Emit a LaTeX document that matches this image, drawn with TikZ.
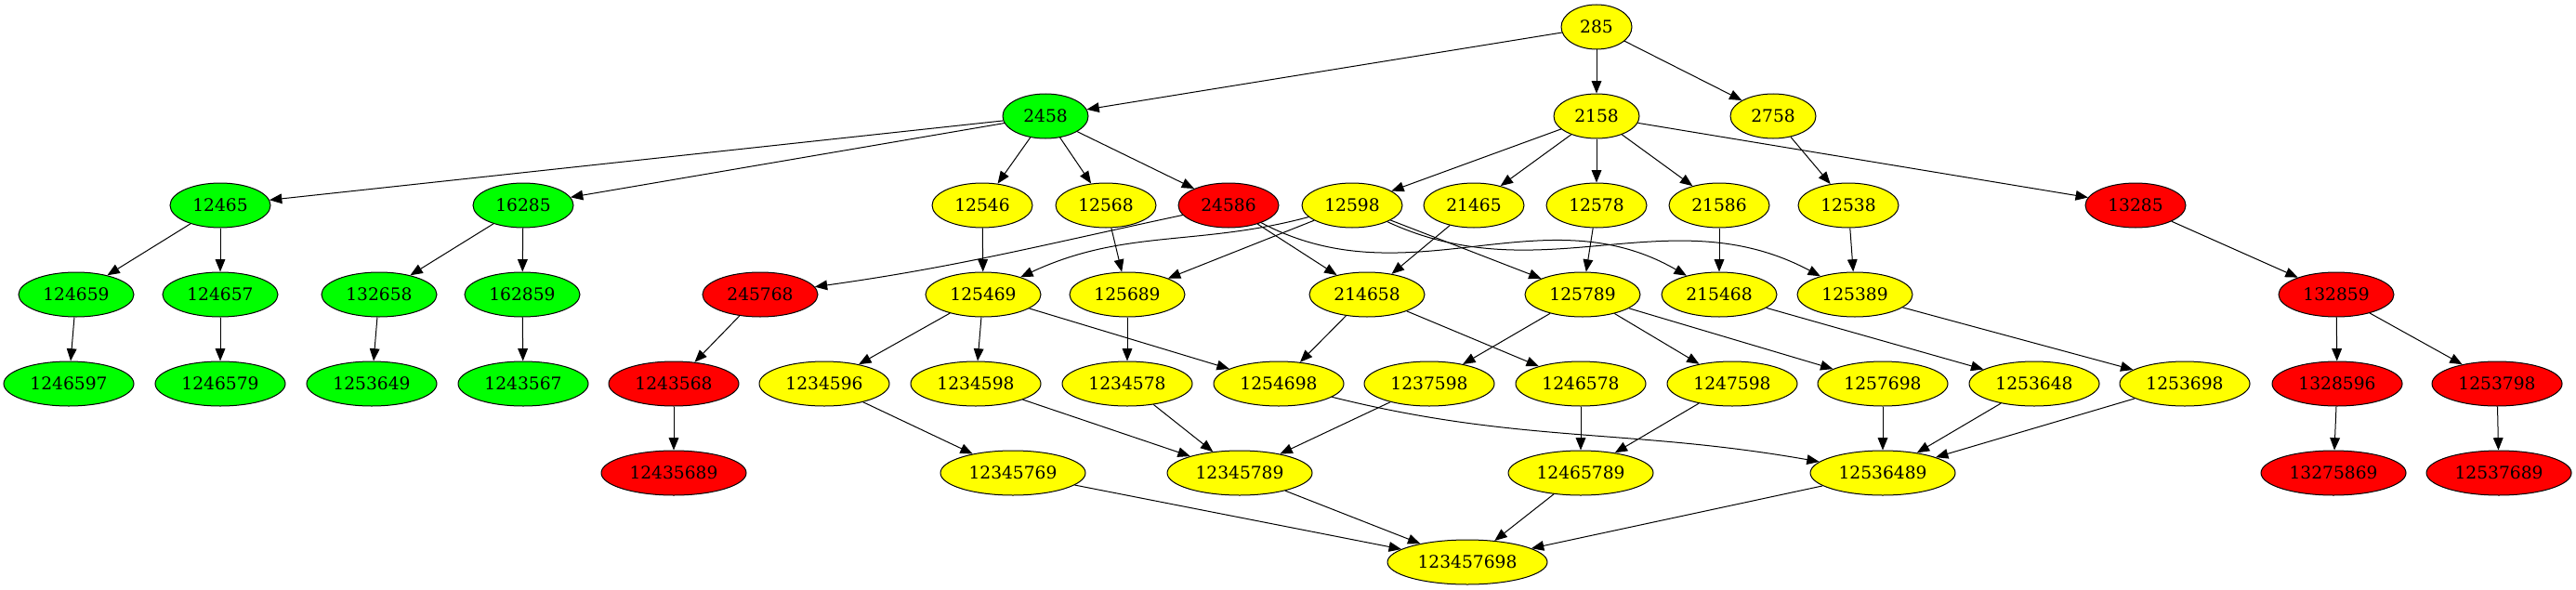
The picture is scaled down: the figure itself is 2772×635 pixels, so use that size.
\documentclass[tikz,border=0pt]{standalone}
\usepackage{fontspec}
\setmainfont{DejaVu Serif}
\usetikzlibrary{shapes.geometric,arrows.meta}
\definecolor{gvgreen}{RGB}{0,255,0}
\definecolor{gvyellow}{RGB}{255,255,0}
\definecolor{gvred}{RGB}{255,0,0}
\begin{document}
\begin{tikzpicture}[x=0.75pt,y=0.75pt,
  gv/.style={ellipse,draw=black,line width=0.75pt,inner sep=0pt,minimum height=36pt,font=\fontsize{14pt}{16pt}\selectfont},
  w3/.style={gv,minimum width=57pt},
  w4/.style={gv,minimum width=69pt},
  w5/.style={gv,minimum width=81pt},
  w6/.style={gv,minimum width=93pt},
  w7/.style={gv,minimum width=105pt},
  w8/.style={gv,minimum width=117pt},
  w9/.style={gv,minimum width=129pt},
  G/.style={fill=gvgreen},
  Y/.style={fill=gvyellow},
  R/.style={fill=gvred},
  edge/.style={-{Triangle[length=10pt,width=8pt]},line width=0.75pt}]
\useasboundingbox (0,0) rectangle (2772,-635);
% row 1
\node[w3,Y] (n285) at (1718,-29) {285};
% row 2
\node[w4,G] (n2458) at (1125,-125) {2458};
\node[w4,Y] (n2158) at (1718,-125) {2158};
\node[w4,Y] (n2758) at (1908,-125) {2758};
% row 3
\node[w5,G] (n12465) at (237,-221) {12465};
\node[w5,G] (n16285) at (563,-221) {16285};
\node[w5,Y] (n12546) at (1057,-221) {12546};
\node[w5,Y] (n12568) at (1190,-221) {12568};
\node[w5,R] (n24586) at (1322,-221) {24586};
\node[w5,Y] (n12598) at (1455,-221) {12598};
\node[w5,Y] (n21465) at (1586,-221) {21465};
\node[w5,Y] (n12578) at (1718,-221) {12578};
\node[w5,Y] (n21586) at (1850,-221) {21586};
\node[w5,Y] (n12538) at (1989,-221) {12538};
\node[w5,R] (n13285) at (2298,-221) {13285};
% row 4
\node[w6,G] (n124659) at (82,-317) {124659};
\node[w6,G] (n124657) at (237,-317) {124657};
\node[w6,G] (n132658) at (408,-317) {132658};
\node[w6,G] (n162859) at (562,-317) {162859};
\node[w6,R] (n245768) at (818,-317) {245768};
\node[w6,Y] (n125469) at (1058,-317) {125469};
\node[w6,Y] (n125689) at (1213,-317) {125689};
\node[w6,Y] (n214658) at (1471,-317) {214658};
\node[w6,Y] (n125789) at (1703,-317) {125789};
\node[w6,Y] (n215468) at (1850,-317) {215468};
\node[w6,Y] (n125389) at (1996,-317) {125389};
\node[w6,R] (n132859) at (2514,-317) {132859};
% row 5
\node[w7,G] (n1246597) at (74,-413) {1246597};
\node[w7,G] (n1246579) at (237,-413) {1246579};
\node[w7,G] (n1253649) at (400,-413) {1253649};
\node[w7,G] (n1243567) at (563,-413) {1243567};
\node[w7,R] (n1243568) at (725,-413) {1243568};
\node[w7,Y] (n1234596) at (887,-413) {1234596};
\node[w7,Y] (n1234598) at (1050,-413) {1234598};
\node[w7,Y] (n1234578) at (1213,-413) {1234578};
\node[w7,Y] (n1254698) at (1376,-413) {1254698};
\node[w7,Y] (n1237598) at (1538,-413) {1237598};
\node[w7,Y] (n1246578) at (1701,-413) {1246578};
\node[w7,Y] (n1247598) at (1864,-413) {1247598};
\node[w7,Y] (n1257698) at (2026,-413) {1257698};
\node[w7,Y] (n1253648) at (2189,-413) {1253648};
\node[w7,Y] (n1253698) at (2351,-413) {1253698};
\node[w7,R] (n1328596) at (2515,-413) {1328596};
\node[w7,R] (n1253798) at (2687,-413) {1253798};
% row 6
\node[w8,R] (n12435689) at (725,-509) {12435689};
\node[w8,Y] (n12345769) at (1090,-509) {12345769};
\node[w8,Y] (n12345789) at (1334,-509) {12345789};
\node[w8,Y] (n12465789) at (1701,-509) {12465789};
\node[w8,Y] (n12536489) at (2026,-509) {12536489};
\node[w8,R] (n13275869) at (2511,-509) {13275869};
\node[w8,R] (n12537689) at (2689,-509) {12537689};
% row 7
\node[w9,Y] (n123457698) at (1579,-605) {123457698};
% edges
\draw[edge] (n285) -- (n2458);
\draw[edge] (n285) -- (n2158);
\draw[edge] (n285) -- (n2758);
\draw[edge] (n2458) -- (n12465);
\draw[edge] (n2458) -- (n16285);
\draw[edge] (n2458) -- (n12546);
\draw[edge] (n2458) -- (n12568);
\draw[edge] (n2458) -- (n24586);
\draw[edge] (n2158) -- (n12598);
\draw[edge] (n2158) -- (n21465);
\draw[edge] (n2158) -- (n12578);
\draw[edge] (n2158) -- (n21586);
\draw[edge] (n2158) -- (n13285);
\draw[edge] (n2758) -- (n12538);
\draw[edge] (n12465) -- (n124659);
\draw[edge] (n12465) -- (n124657);
\draw[edge] (n16285) -- (n132658);
\draw[edge] (n16285) -- (n162859);
\draw[edge] (n12546) -- (n125469);
\draw[edge] (n12568) -- (n125689);
\draw[edge] (n24586) to[out=192,in=8] (n245768);
\draw[edge] (n24586) -- (n214658);
\draw[edge] (n24586) to[out=-28,in=150] (n215468);
\draw[edge] (n12598) to[out=195,in=25] (n125469);
\draw[edge] (n12598) -- (n125689);
\draw[edge] (n12598) -- (n125789);
\draw[edge] (n12598) to[out=-25,in=152] (n125389);
\draw[edge] (n21465) -- (n214658);
\draw[edge] (n12578) -- (n125789);
\draw[edge] (n21586) -- (n215468);
\draw[edge] (n12538) -- (n125389);
\draw[edge] (n13285) -- (n132859);
\draw[edge] (n124659) -- (n1246597);
\draw[edge] (n124657) -- (n1246579);
\draw[edge] (n132658) -- (n1253649);
\draw[edge] (n162859) -- (n1243567);
\draw[edge] (n245768) -- (n1243568);
\draw[edge] (n125469) -- (n1234596);
\draw[edge] (n125469) -- (n1234598);
\draw[edge] (n125469) -- (n1254698);
\draw[edge] (n125689) -- (n1234578);
\draw[edge] (n214658) -- (n1254698);
\draw[edge] (n214658) -- (n1246578);
\draw[edge] (n125789) -- (n1237598);
\draw[edge] (n125789) -- (n1247598);
\draw[edge] (n125789) -- (n1257698);
\draw[edge] (n215468) -- (n1253648);
\draw[edge] (n125389) -- (n1253698);
\draw[edge] (n132859) -- (n1328596);
\draw[edge] (n132859) -- (n1253798);
\draw[edge] (n1243568) -- (n12435689);
\draw[edge] (n1234596) -- (n12345769);
\draw[edge] (n1234598) -- (n12345789);
\draw[edge] (n1234578) -- (n12345789);
\draw[edge] (n1237598) -- (n12345789);
\draw[edge] (n1254698) to[out=-14,in=170] (n12536489);
\draw[edge] (n1246578) -- (n12465789);
\draw[edge] (n1247598) -- (n12465789);
\draw[edge] (n1257698) -- (n12536489);
\draw[edge] (n1253648) -- (n12536489);
\draw[edge] (n1253698) -- (n12536489);
\draw[edge] (n1328596) -- (n13275869);
\draw[edge] (n1253798) -- (n12537689);
\draw[edge] (n12345769) -- (n123457698);
\draw[edge] (n12345789) -- (n123457698);
\draw[edge] (n12465789) -- (n123457698);
\draw[edge] (n12536489) -- (n123457698);
\end{tikzpicture}
\end{document}
